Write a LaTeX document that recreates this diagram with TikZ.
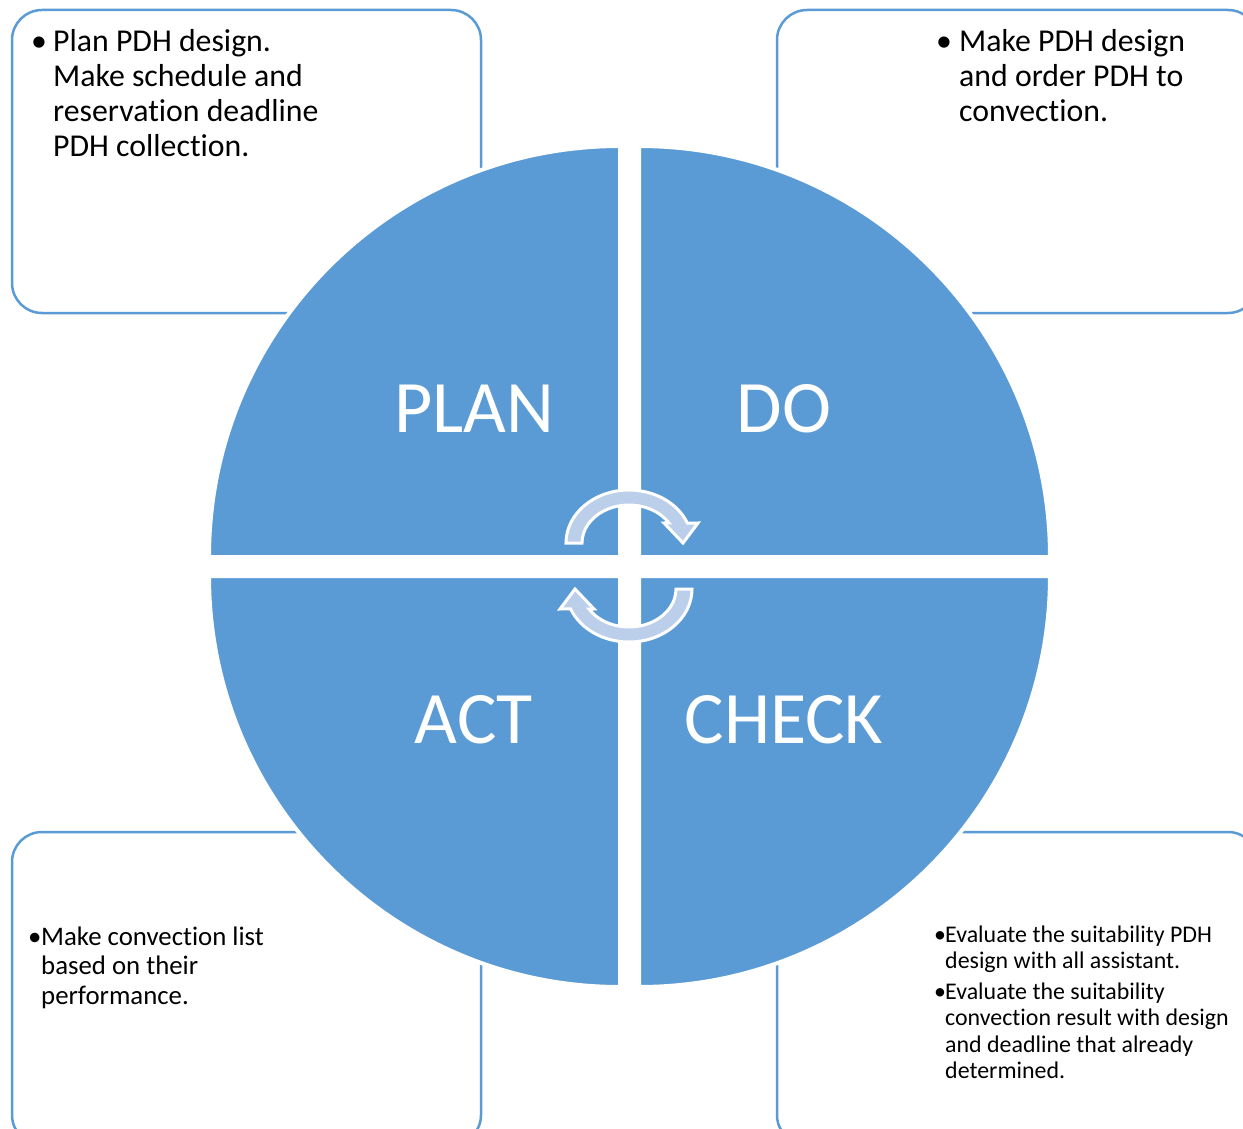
\documentclass[tikz,border=0pt]{standalone}
\usepackage{fontspec}
\setmainfont{Carlito}[Ligatures=NoCommon]
\usepackage{tikz}

\definecolor{pdcablue}{RGB}{91,155,213}
\definecolor{pdcalight}{RGB}{187,206,234}

\tikzset{
  boxline/.style={draw=pdcablue, line width=2.5, rounded corners=30},
  quarter/.style={fill=pdcablue, draw=white, line width=4},
  phase/.style={text=white, inner sep=0, font=\fontsize{74}{89}\selectfont},
  note/.style={anchor=base west, inner sep=0},
  turn/.style={fill=pdcalight, draw=white, line width=3},
  turnarrow/.pic={
    \path[turn] (180:63 and 53) arc[start angle=180, end angle=338, x radius=63, y radius=53]
      -- (69,-20) -- (54,0) -- (35,-20)
      -- (328:47 and 38) arc[start angle=328, end angle=180, x radius=47, y radius=38] -- cycle;
  }
}

\begin{document}
\begin{tikzpicture}[x=1pt, y=-1pt]

\useasboundingbox (0,0) rectangle (1243,1129);
\clip (0,0) rectangle (1243,1129);

% boxes
\draw[boxline] (12,10) rectangle (481,313);
\draw[boxline] (777,10) rectangle (1258,313);
\draw[boxline] (12,832) rectangle (481,1145);
\draw[boxline] (777,832) rectangle (1258,1145);

% quarters of the circle
\path[quarter] (620,557) -- ++(180:411) arc[start angle=180, end angle=270, radius=411] -- cycle;
\path[quarter] (639,557) -- ++(270:411) arc[start angle=270, end angle=360, radius=411] -- cycle;
\path[quarter] (639,576) -- ++(0:411) arc[start angle=0, end angle=90, radius=411] -- cycle;
\path[quarter] (620,576) -- ++(90:411) arc[start angle=90, end angle=180, radius=411] -- cycle;

% turning arrows
\pic at (629,543) {turnarrow};
\pic[rotate=180] at (629,589) {turnarrow};

% phase names
\node[phase] (plan) at (474,409) {PLAN};
\node[phase] (do) at (784,409) {DO};
\node[phase] (act) at (474,720) {ACT};
\node[phase] (check) at (784,720) {CHECK};

% notes
\node[note, font=\fontsize{31.8}{35}\selectfont] (plannote) at (31,52)
  {\makebox[22pt][l]{•}\begin{tabular}[t]{@{}l@{}}Plan PDH design.\\ Make schedule and\\ reservation deadline\\ PDH collection.\end{tabular}};
\node[note, font=\fontsize{31.8}{35}\selectfont] (donote) at (936,52)
  {\makebox[23pt][l]{•}\begin{tabular}[t]{@{}l@{}}Make PDH design\\ and order PDH to\\ convection.\end{tabular}};
\node[note, font=\fontsize{26.8}{29.5}\selectfont] (actnote) at (28,945)
  {\makebox[13pt][l]{•}\begin{tabular}[t]{@{}l@{}}Make convection list\\ based on their\\ performance.\end{tabular}};
\node[note, font=\fontsize{23.9}{26.5}\selectfont] (checknote) at (934,942)
  {\begin{tabular}[t]{@{}l@{}l@{}}\makebox[11pt][l]{•}&Evaluate the suitability PDH\\ &design with all assistant.\\[4pt]
   \makebox[11pt][l]{•}&Evaluate the suitability\\ &convection result with design\\ &and deadline that already\\ &determined.\end{tabular}};

\end{tikzpicture}
\end{document}
